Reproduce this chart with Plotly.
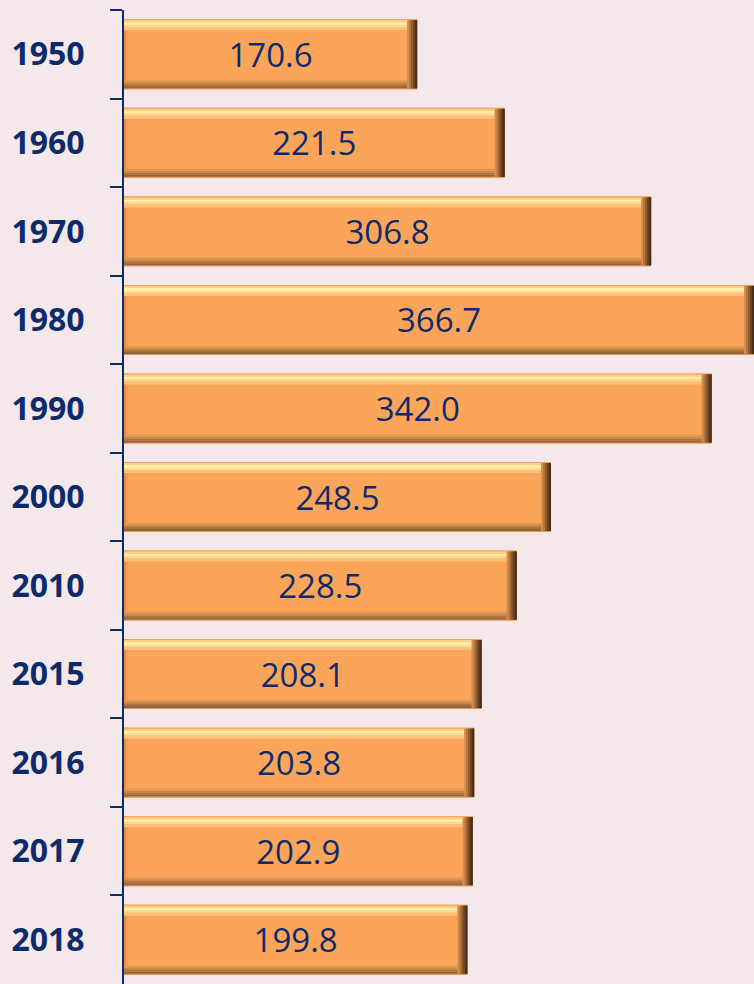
import plotly.graph_objects as go

years = ["1950", "1960", "1970", "1980", "1990", "2000", "2010", "2015", "2016", "2017", "2018"]
values = [170.6, 221.5, 306.8, 366.7, 342.0, 248.5, 228.5, 208.1, 203.8, 202.9, 199.8]

BG = "#F4E8EA"
NAVY = "#0D2B6B"
ORANGE = "#FBA55B"

BW = 0.79            # bar thickness in category units (~70 px)
PY = BW / 70.0       # one vertical pixel in category units
XMAX = 366.7
PX = XMAX / 630.0    # one horizontal pixel in data units

# bevel styling: (start px, end px, colour) for top/bottom, nested thickness for right
TOP = [(0, 1, "#F0A060"), (1, 3, "#FFD084"), (3, 6, "#FFF0A8"), (6, 8, "#FFDA94"), (8, 11, "#FFC07A")]
BOTTOM = [(0, 1, "#E8954F"), (1, 3, "#8F6440"), (3, 5, "#A8713F"), (5, 7, "#C9854A"), (7, 9, "#E4974F")]
RIGHT = [(10, "#D88D4A"), (8, "#B5763D"), (6, "#8E5C30"), (4, "#6B4426"), (2, "#4A2E1A")]
LEFT = [(0, 2, "#E0904C"), (2, 4, "#F29C55")]

fig = go.Figure()
fig.add_trace(go.Bar(
    y=years, x=values, orientation="h",
    width=BW, offset=-BW / 2,
    marker=dict(color=ORANGE, line=dict(width=0)),
    texttemplate="%{x:.1f}", textposition="inside", insidetextanchor="middle",
    constraintext="none",
    textfont=dict(family="Open Sans", size=33, color=NAVY),
    hoverinfo="skip",
))

for a, b, c in LEFT:
    fig.add_trace(go.Bar(
        y=years, x=[(b - a) * PX] * len(values), base=[a * PX] * len(values), orientation="h",
        width=BW, offset=-BW / 2, marker=dict(color=c, line=dict(width=0)), hoverinfo="skip"))

for a, b, c in TOP:
    fig.add_trace(go.Bar(
        y=years, x=values, orientation="h",
        width=(b - a) * PY, offset=-BW / 2 + a * PY,
        marker=dict(color=c, line=dict(width=0)), hoverinfo="skip"))

for a, b, c in BOTTOM:
    fig.add_trace(go.Bar(
        y=years, x=values, orientation="h",
        width=(b - a) * PY, offset=BW / 2 - b * PY,
        marker=dict(color=c, line=dict(width=0)), hoverinfo="skip"))

for w, c in RIGHT:
    fig.add_trace(go.Bar(
        y=years, x=[w * PX] * len(values), base=[v - w * PX for v in values], orientation="h",
        width=BW - 2 * PY, offset=-BW / 2 + PY,
        marker=dict(color=c, line=dict(width=0)), hoverinfo="skip"))

fig.update_layout(
    width=754, height=984,
    margin=dict(l=124, r=0, t=10, b=0),
    paper_bgcolor=BG, plot_bgcolor=BG,
    barmode="overlay", showlegend=False,
    xaxis=dict(range=[0, XMAX], visible=False, fixedrange=True),
    yaxis=dict(
        type="category", categoryorder="array", categoryarray=years,
        autorange="reversed", fixedrange=True,
        showline=True, linecolor=NAVY, linewidth=2,
        ticks="outside", tickson="boundaries", ticklen=12, tickcolor=NAVY, tickwidth=2,
        ticklabelstandoff=31,
        tickfont=dict(family="Open Sans", size=32, color=NAVY, weight="bold"),
        showgrid=False, zeroline=False,
    ),
)

fig.write_html(
    "out.html",
    config={"displayModeBar": False, "staticPlot": True},
    post_script="document.body.style.margin='0';document.body.style.background='%s';" % BG,
)
